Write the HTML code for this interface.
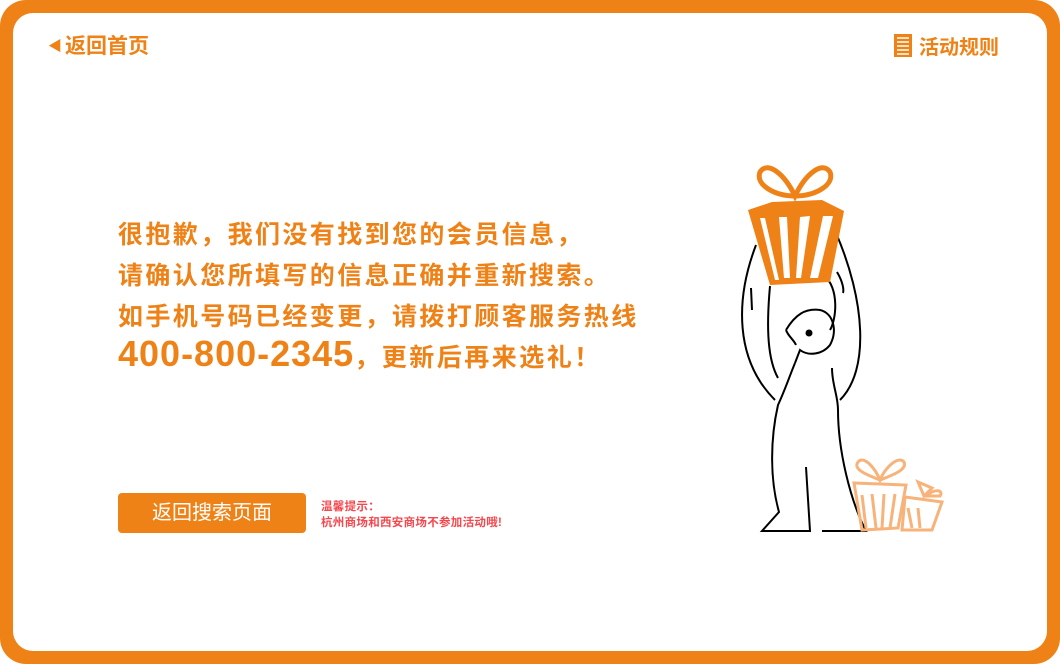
<!DOCTYPE html>
<html><head><meta charset="utf-8"><style>
*{margin:0;padding:0;box-sizing:border-box}
body{width:1060px;height:664px;background:#fff;position:relative;overflow:hidden;font-family:"Liberation Sans","Noto Sans CJK SC",sans-serif}
#frame{position:absolute;left:0;top:0;width:1060px;height:664px;background:#ef8217;border-radius:26px}
#card{position:absolute;left:13px;top:13px;width:1034px;height:638px;background:#fff;border-radius:20px}
.o{color:#ef8217;font-weight:bold;position:absolute;white-space:nowrap}
.m{font-size:25px;line-height:30px;letter-spacing:2.4px}
</style></head><body>
<div id="frame"></div>
<div id="card"></div>
<div class="o" style="left:48px;top:33px;font-size:21px;line-height:26px"><span style="font-size:14px;vertical-align:2px;margin-right:3px">◀</span>返回首页</div>
<div class="o" style="left:893px;top:34px;font-size:20px;line-height:24px">
<svg width="20" height="23" style="vertical-align:-3px;margin-right:6px"><rect x="1" y="0" width="18" height="23" fill="#ef8217"/><g stroke="#fff" stroke-width="1.5"><line x1="4" y1="4" x2="16" y2="4"/><line x1="4" y1="8" x2="16" y2="8"/><line x1="4" y1="12" x2="16" y2="12"/><line x1="4" y1="16" x2="16" y2="16"/><line x1="4" y1="20" x2="16" y2="20"/></g></svg>活动规则</div>
<div class="o m" style="left:118px;top:220px">很抱歉，我们没有找到您的会员信息，</div>
<div class="o m" style="left:118px;top:261px">请确认您所填写的信息正确并重新搜索。</div>
<div class="o m" style="left:118px;top:302px">如手机号码已经变更，请拨打顾客服务热线</div>
<div class="o" style="left:118px;top:334px;font-size:25px;line-height:40px"><span style="font-size:36px;letter-spacing:1px">400-800-2345</span><span style="letter-spacing:2.5px">，更新后再来选礼！</span></div>
<div style="position:absolute;left:118px;top:493px;width:188px;height:40px;background:#ef8217;border-radius:4px;color:#fff;font-size:20px;line-height:40px;text-align:center">返回搜索页面</div>
<div style="position:absolute;left:321px;top:499px;color:#f6474d;font-size:11.5px;font-weight:bold;line-height:16px;white-space:nowrap;letter-spacing:0.3px">温馨提示：<br>杭州商场和西安商场不参加活动哦!</div>
<svg width="1060" height="664" style="position:absolute;left:0;top:0" fill="none">
<g stroke="#000" stroke-width="2">
<path d="M756 245 C735 300 735 360 775 400"/>
<path d="M770 286 C766 330 768 360 778 378"/>
<path d="M751 288 L752 310"/>
<path d="M836 233 C865 300 870 370 840 400"/>
<path d="M824 275 C840 290 836 320 830 330"/>
<path d="M837 272 C843 282 844 290 843 293"/>
<path d="M795 363 C790 375 785 390 778 405 C770 440 770 480 779 512 L762 531 L810 531 L806 467"/>
<path d="M822 531 L866 531 C850 500 838 450 838 410 C838 395 832 385 832 368"/>
<path d="M786 330 C795 315 805 308 820 310 C833 313 838 330 830 345 C822 355 808 356 800 350 L795 363 M786 330 C788 336 794 340 796 345"/>
</g>
<circle cx="809" cy="333" r="3.5" fill="#000"/>
<g fill="#ef8217">
<path d="M748 210 L772 202 L822 200 L844 211 L830 282 L770 285 Z"/>
</g>
<g stroke="#ef8217" stroke-width="5">
<path d="M795 196 C775 196 755 185 760 172 C768 160 785 175 795 196 C805 175 822 160 830 172 C835 185 815 196 795 196"/>
</g>
<g fill="#fff"><path d="M760 218 L765 218 L779 280 L775 280Z M779 217 L787 217 L790 278 L784 278Z M800 217 L810 216 L801 278 L796 278Z M823 216 L833 216 L818 278 L810 278Z"/></g>
<g stroke="#f7b37a" stroke-width="3">
<path d="M854 483 L906 485 L898 528 L862 530 Z"/>
<path d="M862 495 L866 528 M872 494 L876 528 M884 494 L882 528 M895 494 L890 528"/>
<path d="M880 480 C870 476 852 470 858 462 C864 455 875 468 880 480 C885 468 898 455 904 462 C908 470 890 476 880 480"/>
<path d="M905 497 L942 502 L932 530 L902 530 Z M908 508 L912 528 M918 508 L920 528"/>
<path d="M924 496 L918 482 L932 488 Z M926 496 C935 488 944 490 940 496 Z"/>
</g>
</svg>
</body></html>
